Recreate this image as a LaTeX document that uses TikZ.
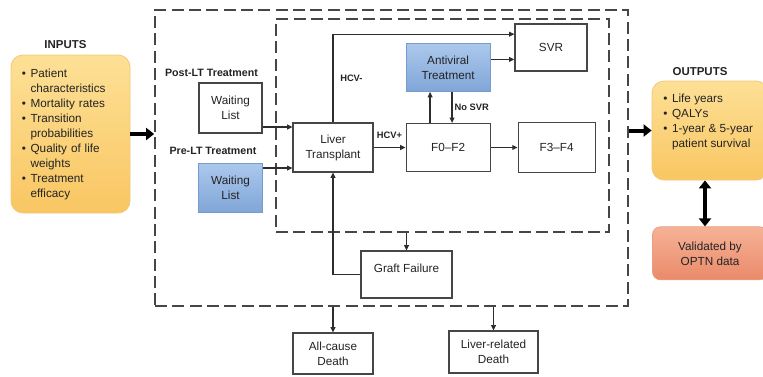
\documentclass[tikz,border=0pt]{standalone}
\usepackage{fontspec}
\setmainfont{Liberation Sans}
\usepackage{tikz}
\usetikzlibrary{positioning, arrows.meta}
\definecolor{boxline}{RGB}{70,70,70}
\definecolor{linkgray}{RGB}{45,45,45}
\definecolor{txtgray}{RGB}{35,35,35}
\definecolor{blueTop}{RGB}{172,200,236}
\definecolor{blueBot}{RGB}{128,166,216}
\definecolor{blueLine}{RGB}{120,155,205}
\definecolor{orangeTop}{RGB}{253,224,150}
\definecolor{orangeBot}{RGB}{249,198,98}
\definecolor{orangeLine}{RGB}{240,200,120}
\definecolor{salmonTop}{RGB}{246,178,150}
\definecolor{salmonBot}{RGB}{234,138,106}
\definecolor{salmonLine}{RGB}{230,160,130}

\begin{document}
\begin{tikzpicture}[x=0.75pt, y=-0.75pt,
  state/.style={rectangle, draw=boxline, line width=0.8pt, fill=white, align=center,
    inner sep=1pt, text=txtgray, font=\fontsize{8.8}{11.25}\selectfont},
  bluestate/.style={state, draw=blueLine, top color=blueTop, bottom color=blueBot},
  listbox/.style={rectangle, rounded corners=9pt, draw=orangeLine, line width=0.6pt,
    top color=orangeTop, bottom color=orangeBot, text=txtgray,
    font=\fontsize{8.8}{11.25}\selectfont},
  checkbox/.style={rectangle, rounded corners=6pt, draw=salmonLine, line width=0.6pt,
    top color=salmonTop, bottom color=salmonBot, text=txtgray, align=center,
    font=\fontsize{8.8}{11.25}\selectfont},
  frame/.style={rectangle, draw=boxline, line width=1.3pt, dash pattern=on 9pt off 4pt, inner sep=0pt},
  grouplabel/.style={inner sep=0pt, text=txtgray, font=\bfseries\fontsize{8}{9.6}\selectfont},
  headlabel/.style={inner sep=0pt, text=txtgray, font=\bfseries\fontsize{8.6}{10}\selectfont},
  small/.style={inner sep=1.5pt, text=txtgray, font=\bfseries\fontsize{7}{8}\selectfont},
  link/.style={-{Triangle[length=4pt,width=3.6pt]}, line width=0.9pt, draw=linkgray},
  bigarrow/.style={-{Triangle[length=6pt,width=9pt]}, line width=3pt, draw=black}
]
  \useasboundingbox (0,0) rectangle (763,376);
  \clip (0,0) rectangle (763,376);

  % dashed model frames
  \node[frame, minimum width=354.75pt, minimum height=222pt] (model) at (391.5,158) {};
  \node[frame, minimum width=249.75pt, minimum height=159.75pt] (core) at (442.5,125.5) {};

  % inputs and outputs
  \node[headlabel] (inlbl) at (65.5,45) {INPUTS};
  \node[listbox, minimum width=89.25pt, minimum height=118.5pt, text width=73pt, align=left] (inputs) at (70.5,134) {%
    \begin{tabular}{@{}l@{\hspace{3.5pt}}l@{}}
    \textbullet & Patient\\
                & characteristics\\
    \textbullet & Mortality rates\\
    \textbullet & Transition\\
                & probabilities\\
    \textbullet & Quality of life\\
                & weights\\
    \textbullet & Treatment\\
                & efficacy
    \end{tabular}};
  \node[headlabel] (outlbl) at (700,72) {OUTPUTS};
  \node[listbox, minimum width=87pt, minimum height=74.25pt, inner xsep=8pt] (outputs) at (710,130.5) {%
    \parbox[c][58pt][t]{70pt}{\begin{tabular}{@{}l@{\hspace{3.5pt}}l@{}}
    \textbullet & Life years\\
    \textbullet & QALYs\\
    \textbullet & 1-year \& 5-year\\
                & patient survival
    \end{tabular}}};
  \node[checkbox, minimum width=86.25pt, minimum height=39.75pt, below=34.5pt of outputs] (validated) {Validated by\\OPTN data};

  % waiting lists
  \node[grouplabel] (postlbl) at (211.5,73) {Post-LT Treatment};
  \node[state, minimum width=47.25pt, minimum height=37.5pt] (postwl) at (230.5,108) {Waiting\\List};
  \node[grouplabel] (prelbl) at (213,151) {Pre-LT Treatment};
  \node[bluestate, minimum width=48pt, minimum height=36.75pt, below=21.75pt of postwl] (prewl) {Waiting\\List};

  % health states
  \node[state, minimum width=60pt, minimum height=36.75pt] (liver) at (333,147.5) {Liver\\Transplant};
  \node[state, minimum width=63pt, minimum height=36pt, right=24pt of liver] (f02) {F0--F2};
  \node[state, minimum width=57.75pt, minimum height=37.5pt, right=20.25pt of f02] (f34) {F3--F4};
  \node[bluestate, minimum width=63pt, minimum height=36pt, above=23.25pt of f02] (antiviral) {Antiviral\\Treatment};
  \node[state, minimum width=54pt, minimum height=35.25pt] (svr) at (551,47.5) {SVR};
  \node[state, minimum width=68.25pt, minimum height=35.25pt, text height=7pt, text depth=10pt] (graft) at (406.5,274.5) {Graft Failure};
  \node[state, minimum width=60pt, minimum height=30.75pt] (allcause) at (333,353.5) {All-cause\\Death};
  \node[state, minimum width=66.75pt, minimum height=31.5pt] (liverdeath) at (493.5,352) {Liver-related\\Death};

  % transitions
  \coordinate (inA) at ([yshift=15.4pt]liver.west);
  \coordinate (inB) at ([yshift=-15.4pt]liver.west);
  \draw[link] (inA -| postwl.east) -- (inA);
  \draw[link] (inB -| prewl.east) -- (inB);
  \draw[link] (liver.east) -- (liver.east -| f02.west) node[midway, above=5pt, small] {HCV+};
  \draw[link] (f02.east) -- (f02.east -| f34.west);
  \coordinate (upX) at ([xshift=-13.5pt]f02.north);
  \draw[link] (upX) -- (upX |- antiviral.south);
  \coordinate (dnX) at ([xshift=3pt]antiviral.south);
  \draw[link] (dnX) -- (dnX |- f02.north) node[midway, right, small] {No SVR};
  \coordinate (svrA) at ([yshift=6pt]antiviral.east);
  \draw[link] (svrA) -- (svrA -| svr.west);
  \draw[link] (liver.north) |- ([yshift=10pt]svr.west) node[pos=0.25, right=3.5pt, small] {HCV-};
  \draw[link] (graft.west) -| (liver.south);
  \draw[link] (graft.north |- core.south) -- (graft.north);
  \draw[link] (allcause.north |- model.south) -- (allcause.north);
  \draw[link] (liverdeath.north |- model.south) -- (liverdeath.north);

  % model inputs and outputs
  \draw[bigarrow] (inputs.east) -- (inputs.east -| model.west);
  \draw[bigarrow] (model.east |- outputs.west) -- (outputs.west);
  \coordinate (valX) at ([xshift=-3.75pt]outputs.south);
  \draw[bigarrow, {Triangle[length=6pt,width=9pt]}-{Triangle[length=6pt,width=9pt]}] (valX) -- (valX |- validated.north);
\end{tikzpicture}
\end{document}
